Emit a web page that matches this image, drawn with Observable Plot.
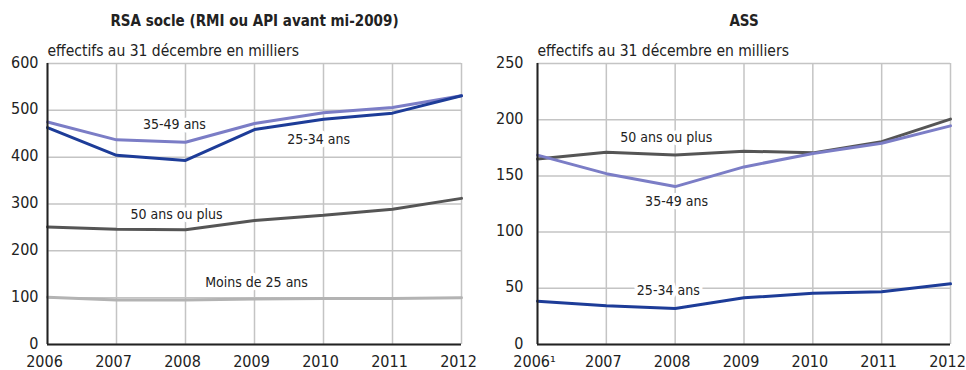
<!DOCTYPE html>
<html><head><meta charset="utf-8">
<script src="https://cdn.jsdelivr.net/npm/d3@7"></script>
<script src="https://cdn.jsdelivr.net/npm/@observablehq/plot@0.6"></script>
<style>
body{margin:0;background:#fff}
#c{display:flex;width:966px;height:370px;overflow:hidden}
svg{display:block;overflow:visible}
</style>
</head><body><div id="c"></div>
<script>
const years = [2006, 2007, 2008, 2009, 2010, 2011, 2012];

// RSA socle (RMI ou API avant mi-2009)
const rsaMoins25 = [101, 95, 95, 97, 98, 98, 100];
const rsa50plus  = [251, 246, 245, 265, 276, 289, 312];
const rsa35_49   = [475, 437, 432, 472, 495, 506, 531];
const rsa25_34   = [463, 404, 393, 459, 481, 494, 531];

// ASS
const ass50plus = [165, 171, 168.5, 172, 170.5, 180.5, 200.5];
const ass35_49  = [168.5, 152, 140.5, 158, 170, 179, 194.5];
const ass25_34  = [38.5, 34.5, 32, 41.5, 45.5, 47, 54];

const seriesNames = ["Moins de 25 ans", "50 ans ou plus", "35-49 ans", "25-34 ans"];
const seriesColors = ["#b3b3b3", "#555555", "#7b7dc6", "#1d3c98"];

const rsaTicksY = [0, 100, 200, 300, 400, 500, 600];
const assTicksY = [0, 50, 100, 150, 200, 250];

const rsaLabels = [
  {x: 2007.84, y: 470, text: "35-49 ans"},
  {x: 2009.93, y: 438, text: "25-34 ans"},
  {x: 2007.87, y: 278, text: "50 ans ou plus"},
  {x: 2009.03, y: 132, text: "Moins de 25 ans"}
];
const assLabels = [
  {x: 2007.87, y: 184, text: "50 ans ou plus"},
  {x: 2008.02, y: 127, text: "35-49 ans"},
  {x: 2007.9, y: 48, text: "25-34 ans"}
];

function table(list) {
  const rows = [];
  for (const [name, vals] of list) vals.forEach((v, i) => rows.push({year: years[i], value: v, series: name}));
  return rows;
}
const rsaData = table([["Moins de 25 ans", rsaMoins25], ["50 ans ou plus", rsa50plus], ["35-49 ans", rsa35_49], ["25-34 ans", rsa25_34]]);
const assData = table([["50 ans ou plus", ass50plus], ["35-49 ans", ass35_49], ["25-34 ans", ass25_34]]);

const FONT = "'DejaVu Sans Condensed', 'Liberation Sans', sans-serif";

function panel({data, title, yDomain, yTicks, labels, marginLeft, marginRight, tickPadY, firstTick}) {
  return Plot.plot({
    width: 483, height: 370,
    marginTop: 63, marginBottom: 26, marginLeft, marginRight,
    style: {fontFamily: FONT, fontSize: "16px", color: "#222", background: "#fff", overflow: "visible"},
    x: {domain: [2006, 2012]},
    y: {domain: yDomain},
    color: {domain: seriesNames, range: seriesColors},
    marks: [
      Plot.gridX(years, {stroke: "#c4c4c4", strokeOpacity: 1, strokeWidth: 1.5}),
      Plot.gridY(yTicks, {stroke: "#c4c4c4", strokeOpacity: 1, strokeWidth: 1.5}),
      Plot.axisX(years, {tickSize: 0, tickPadding: 11, fontSize: 16, fill: "#222", dx: -3,
        tickFormat: d => d === 2006 && firstTick ? firstTick : String(d)}),
      Plot.axisY(yTicks, {tickSize: 0, tickPadding: tickPadY, fontSize: 16, fill: "#222", dy: -1}),
      Plot.line(data, {x: "year", y: "value", z: "series", stroke: "series", strokeWidth: 3, strokeLinejoin: "miter"}),
      Plot.ruleX([2006], {stroke: "#222", strokeWidth: 2}),
      Plot.ruleY([0], {stroke: "#222", strokeWidth: 2}),
      Plot.text(labels, {x: "x", y: "y", text: "text", fontSize: 14, fill: "#222", stroke: "white", strokeWidth: 7}),
      Plot.text([title], {frameAnchor: "top", dy: -48, fontWeight: "bold", fontSize: 15, fill: "#222"}),
      Plot.text(["effectifs au 31 décembre en milliers"], {frameAnchor: "top-left", textAnchor: "start", dy: -19, fontSize: 15.5, fill: "#222"})
    ]
  });
}

const c = document.getElementById("c");
c.append(panel({data: rsaData, title: "RSA socle (RMI ou API avant mi-2009)", yDomain: [0, 600], yTicks: rsaTicksY,
  labels: rsaLabels, marginLeft: 47, marginRight: 22, tickPadY: 9}));
c.append(panel({data: assData, title: "ASS", yDomain: [0, 250], yTicks: assTicksY,
  labels: assLabels, marginLeft: 54, marginRight: 16, tickPadY: 14, firstTick: "2006¹"}));
</script>
</body></html>
